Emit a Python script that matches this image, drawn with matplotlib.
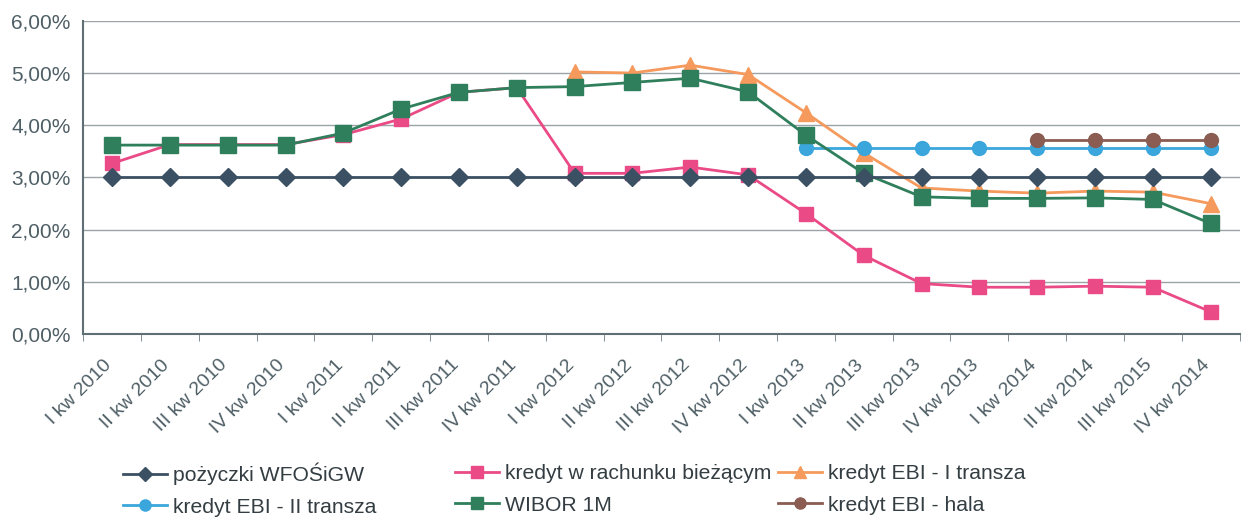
import matplotlib
matplotlib.use("Agg")
import matplotlib.pyplot as plt
import matplotlib.transforms as mtransforms
from matplotlib.ticker import FuncFormatter, FixedLocator
import numpy as np

categories = ["I kw 2010", "II kw 2010", "III kw 2010", "IV kw 2010",
              "I kw 2011", "II kw 2011", "III kw 2011", "IV kw 2011",
              "I kw 2012", "II kw 2012", "III kw 2012", "IV kw 2012",
              "I kw 2013", "II kw 2013", "III kw 2013", "IV kw 2013",
              "I kw 2014", "II kw 2014", "III kw 2015", "IV kw 2014"]

nan = np.nan
pozyczki = [3.00] * 20
rachunek = [3.27, 3.63, 3.63, 3.63, 3.82, 4.12, 4.63, 4.72, 3.08, 3.08,
            3.20, 3.05, 2.31, 1.51, 0.97, 0.90, 0.90, 0.92, 0.90, 0.43]
ebi_1 = [nan] * 8 + [5.02, 5.00, 5.15, 4.97, 4.24, 3.47, 2.80, 2.74,
                     2.70, 2.74, 2.72, 2.50]
ebi_2 = [nan] * 12 + [3.56] * 8
wibor = [3.62, 3.62, 3.62, 3.62, 3.85, 4.31, 4.63, 4.72, 4.74, 4.82,
         4.90, 4.64, 3.81, 3.08, 2.63, 2.60, 2.60, 2.61, 2.58, 2.12]
ebi_hala = [nan] * 16 + [3.72] * 4

plt.rcParams['font.family'] = ['Liberation Sans', 'DejaVu Sans']
txt = "#4f5f66"

fig = plt.figure(figsize=(12.42, 5.19), dpi=100)
ax = fig.add_axes([0.067, 0.356, 0.931, 0.604])
x = np.arange(len(categories))

series = [
    ("pożyczki WFOŚiGW", pozyczki, "#3b5163", "D", 9),
    ("kredyt w rachunku bieżącym", rachunek, "#ea4a86", "s", 10),
    ("kredyt EBI - I transza", ebi_1, "#f59a5c", "^", 11),
    ("kredyt EBI - II transza", ebi_2, "#3aa6dc", "o", 10),
    ("WIBOR 1M", wibor, "#2f7f5c", "s", 11),
    ("kredyt EBI - hala", ebi_hala, "#8a5c52", "o", 10),
]
handles = {}
for name, vals, col, mk, ms in series:
    h, = ax.plot(x, np.array(vals, dtype=float) / 100, color=col, marker=mk,
                 markersize=ms, linewidth=2, label=name)
    handles[name] = h
handles["pożyczki WFOŚiGW"].set_zorder(2.5)

ax.set_xlim(-0.5, len(categories) - 0.5)
ax.set_ylim(0, 0.06)
ax.set_yticks(np.arange(0, 0.061, 0.01))
ax.yaxis.set_major_formatter(FuncFormatter(lambda v, p: f"{v * 100:.2f}%".replace(".", ",")))
ax.grid(axis="y", color="#9aa3a6", linewidth=1)
ax.set_axisbelow(True)
ax.tick_params(axis="y", length=0, labelsize=15, labelcolor=txt, pad=9)

ax.set_xticks(x)
ax.set_xticklabels(categories, rotation=45, ha="right", rotation_mode="anchor",
                   fontsize=14, color=txt)
ax.tick_params(axis="x", length=0, pad=16)
shift = mtransforms.ScaledTranslation(-9 / 100, 0, fig.dpi_scale_trans)
for lab in ax.get_xticklabels():
    lab.set_transform(lab.get_transform() + shift)
ax.xaxis.set_minor_locator(FixedLocator(np.arange(-0.5, len(categories), 1)))
ax.tick_params(axis="x", which="minor", length=5, color="#6d7b80")

for s in ["top", "right"]:
    ax.spines[s].set_visible(False)
for s in ["left", "bottom"]:
    ax.spines[s].set_color("#5f6f74")
    ax.spines[s].set_linewidth(1.5)

# legend laid out in three fixed columns like the original
columns = [["pożyczki WFOŚiGW", "kredyt EBI - II transza"],
           ["kredyt w rachunku bieżącym", "WIBOR 1M"],
           ["kredyt EBI - I transza", "kredyt EBI - hala"]]
col_x = [123, 455, 778]
for names, cx in zip(columns, col_x):
    leg = fig.legend([handles[n] for n in names], names, loc="center left",
                     bbox_to_anchor=(cx / 1242, 1 - 489.5 / 519),
                     frameon=False, fontsize=15.2, handlelength=2.1,
                     handletextpad=0.25, labelspacing=0.6, borderpad=0,
                     borderaxespad=0, markerscale=0.8)
    for t in leg.get_texts():
        t.set_color("#333d42")

fig.savefig("out.png", dpi=100)
